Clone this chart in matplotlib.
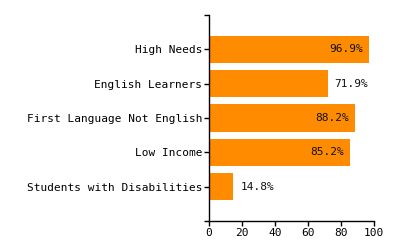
import matplotlib
matplotlib.use("Agg")
import matplotlib.pyplot as plt
from matplotlib.ticker import FixedLocator

categories = ['High Needs', 'English Learners', 'First Language Not English',
              'Low Income', 'Students with Disabilities']
values = [96.9, 71.9, 88.2, 85.2, 14.8]
xticks = [0, 20, 40, 60, 80, 100]

plt.rcParams['font.family'] = ['DejaVu Sans Mono']
fs = 8

fig = plt.figure(figsize=(4, 2.5), dpi=100)
ax = fig.add_axes([0.5225, 0.116, 0.4125, 0.824])

pos = list(range(len(categories)))
ax.barh(pos, values, height=0.8, color='#FF8C00')

for p, v in zip(pos, values):
  if v >= 80:
    ax.annotate('%.1f%%' % v, (v, p), xytext=(-4, 0), textcoords='offset points',
                ha='right', va='center', fontsize=fs, color='#111111')
  else:
    ax.annotate('%.1f%%' % v, (v, p), xytext=(5, 0), textcoords='offset points',
                ha='left', va='center', fontsize=fs, color='#111111')

ax.set_ylim(len(categories), -1)
ax.set_xlim(0, 100)
ax.set_yticks(pos)
ax.set_yticklabels(categories, fontsize=fs)
ax.yaxis.set_minor_locator(FixedLocator([-1, len(categories)]))
ax.set_xticks(xticks)
ax.set_xticklabels([str(t) for t in xticks], fontsize=fs)

for s in ['top', 'right']:
  ax.spines[s].set_visible(False)
ax.spines['left'].set_linewidth(1)
ax.spines['bottom'].set_linewidth(1)
ax.tick_params(axis='both', which='both', length=3.5, width=1, pad=1.5, colors='black')

fig.savefig('out.png', dpi=100)
